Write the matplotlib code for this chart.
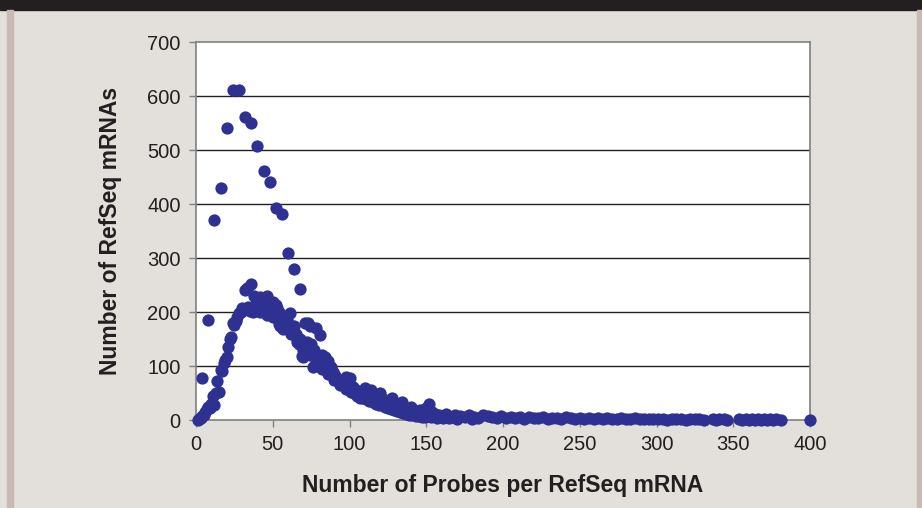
import numpy as np
import matplotlib.pyplot as plt
from matplotlib.patches import Rectangle

# sparse upper branch (probes per mRNA, count)
peak_x = [4, 8, 12, 16, 20, 24, 28, 32, 36, 40, 44, 48, 52, 56, 60, 64, 68]
peak_y = [78, 185, 370, 430, 540, 612, 612, 562, 550, 507, 462, 441, 393, 381, 310, 280, 243]

# dense main branch
main_x = [1, 2, 3, 4, 5, 6, 7, 8, 9, 10, 11, 12, 13, 14, 15, 16, 17, 18, 19, 20,
          21, 22, 23, 24, 25, 26, 27, 28, 29, 30, 31, 32, 33, 34, 35, 36, 37, 38, 39, 40,
          41, 42, 43, 44, 45, 46, 47, 48, 49, 50, 51, 52, 53, 54, 55, 56, 57, 58, 59, 60,
          61, 62, 63, 64, 65, 66, 67, 68, 69, 70, 71, 72, 73, 74, 75, 76, 77, 78, 79, 80,
          81, 82, 83, 84, 85, 86, 87, 88, 89, 90, 91, 92, 93, 94, 95, 96, 97, 98, 99, 100,
          102, 104, 106, 108, 110, 112, 114, 116, 118, 120, 122, 124, 126, 128, 130,
          132, 134, 136, 138, 140, 142, 144, 146, 148, 150, 152, 154, 156, 158, 160,
          163, 166, 169, 172, 175, 178, 181, 184, 187, 190, 193, 196, 199, 202, 205,
          208, 211, 214, 217, 220, 223, 226, 229, 232, 235, 238, 241, 244, 247, 250,
          253, 256, 259, 262, 265, 268, 271, 274, 277, 280, 283, 286, 289, 292, 295,
          298, 301, 304, 307, 310, 313, 316, 319, 322, 325, 328, 331,
          337, 339, 341, 344, 346,
          354, 356, 358, 360, 362, 364, 366, 368, 370, 372, 374, 376, 378, 381, 400]
main_y = [0, 2, 4, 7, 10, 14, 20, 25, 22, 30, 45, 28, 50, 72, 52, 93, 90, 105, 111, 117,
          135, 150, 154, 180, 176, 184, 190, 198, 200, 207, 205, 240, 245, 210, 202, 252, 200, 230, 225, 215,
          212, 228, 222, 226, 216, 230, 200, 216, 198, 219, 195, 213, 207, 200, 175, 190, 168, 170, 185, 180,
          198, 172, 165, 175, 160, 150, 140, 150, 118, 117, 180, 145, 180, 175, 140, 98, 130, 170, 118, 110,
          157, 120, 112, 117, 108, 110, 96, 98, 88, 85, 80, 75, 70, 65, 68, 72, 62, 80, 60, 78,
          62, 55, 48, 52, 60, 50, 56, 45, 40, 50, 38, 35, 32, 40, 28,
          26, 33, 22, 20, 24, 18, 15, 18, 14, 22, 30, 15, 12, 10, 8,
          12, 6, 10, 8, 5, 9, 6, 4, 10, 7, 5, 3, 8, 4, 6,
          3, 5, 2, 6, 4, 3, 5, 2, 4, 3, 2, 5, 3, 2, 4,
          2, 3, 1, 4, 2, 3, 1, 2, 3, 1, 2, 3, 1, 2, 1,
          2, 1, 2, 0, 1, 2, 1, 0, 1, 2, 1, 0,
          1, 0, 2, 1, 0,
          1, 0, 1, 0, 1, 0, 1, 0, 1, 0, 1, 0, 1, 0, 0]

# lower edge of the main branch where it is thick
low_x = [42, 46, 50, 54, 58, 62, 66, 70, 74, 78, 82, 86, 90, 94, 98,
         101, 103, 105, 107, 109, 111, 113, 115, 117, 119, 121, 123, 125, 127, 129,
         131, 133, 135, 137, 139, 141, 143, 145, 147, 149, 153, 157, 161, 165, 170, 180]
low_y = [200, 195, 190, 178, 170, 160, 145, 130, 120, 105, 95, 85, 75, 68, 58,
         52, 50, 45, 41, 40, 38, 35, 33, 30, 28, 27, 25, 22, 20, 18,
         17, 15, 13, 12, 10, 9, 8, 7, 6, 5, 5, 4, 3, 3, 2, 2]

x_ticks = [0, 50, 100, 150, 200, 250, 300, 350, 400]
y_ticks = [0, 100, 200, 300, 400, 500, 600, 700]

dot_color = '#2e3192'
bg = '#e3dfdb'
ink = '#231f20'

plt.rcParams['font.family'] = ['Liberation Sans', 'DejaVu Sans']

fig = plt.figure(figsize=(9.22, 5.08), dpi=100, facecolor=bg)
# black band on top and side strips
fig.patches.append(Rectangle((0, 1 - 10 / 508), 1, 10 / 508, transform=fig.transFigure,
                             color=ink, zorder=0))
fig.patches.append(Rectangle((7 / 922, 0), 6 / 922, 1 - 10 / 508, transform=fig.transFigure,
                             color='#c9bab3', zorder=0))
fig.patches.append(Rectangle((917 / 922, 0), 5 / 922, 1 - 10 / 508, transform=fig.transFigure,
                             color='#c9bab3', zorder=0))

ax = fig.add_axes([196 / 922, 88 / 508, 614 / 922, 378 / 508])
ax.set_facecolor('white')

ax.scatter(low_x, low_y, s=78, color=dot_color, linewidths=0, zorder=3, clip_on=False)
ax.scatter(main_x, main_y, s=78, color=dot_color, linewidths=0, zorder=3, clip_on=False)
ax.scatter(peak_x, peak_y, s=78, color=dot_color, linewidths=0, zorder=3, clip_on=False)

ax.set_xlim(0, 400)
ax.set_ylim(0, 700)
ax.set_xticks(x_ticks)
ax.set_yticks(y_ticks)
for y in y_ticks[1:-1]:
    ax.axhline(y, color='#222222', lw=1.0, zorder=1)

for s in ax.spines.values():
    s.set_color('#808080')
    s.set_linewidth(1.2)
ax.tick_params(axis='both', direction='out', length=5, width=1, color='#808080',
               labelsize=14.5, labelcolor=ink, pad=6)

ax.set_xlabel('Number of Probes per RefSeq mRNA', fontsize=16.5, fontweight='bold',
              color=ink, labelpad=14)
ax.set_ylabel('Number of RefSeq mRNAs', fontsize=16.5, fontweight='bold',
              color=ink, labelpad=18)

fig.savefig('out.png', dpi=100, facecolor=bg)
